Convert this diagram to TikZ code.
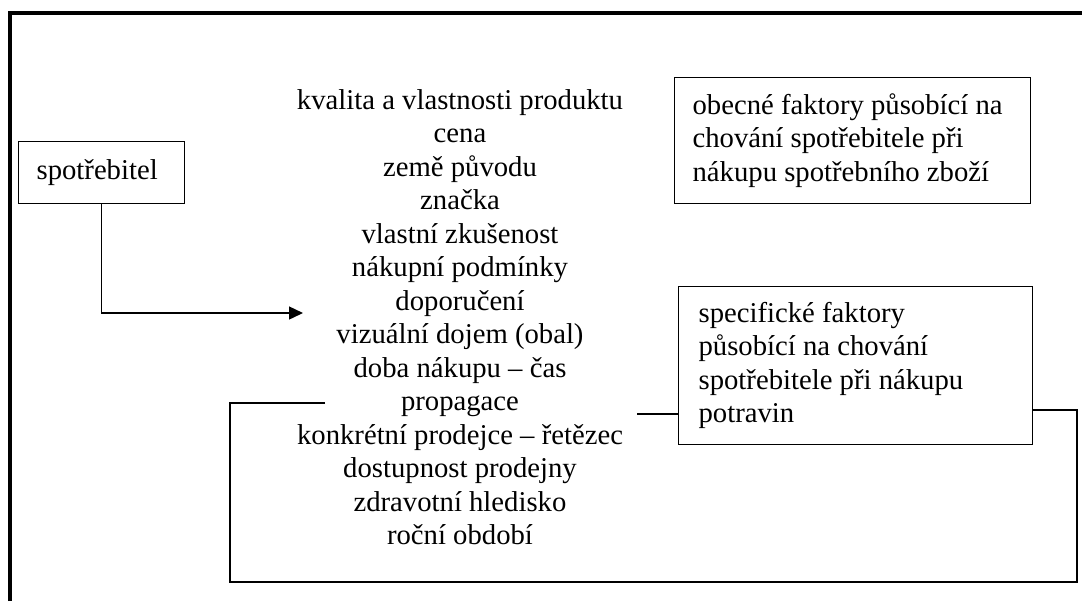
\documentclass[tikz,border=0pt]{standalone}
\usepackage{fontspec}
\setmainfont{Liberation Serif}
\usetikzlibrary{arrows.meta,calc}
\begin{document}
\begin{tikzpicture}[x=0.5pt,y=-0.5pt,
  every node/.style={font=\fontsize{14.35pt}{16.75pt}\selectfont, inner sep=0pt},
  box/.style={draw, line width=0.6pt, align=flush left, anchor=north west},
  conn/.style={line width=0.7pt},
  frameline/.style={line width=1.8pt}]
\useasboundingbox (0,0) rectangle (1082,601);
\fill[white] (0,0) rectangle (1082,601);
% outer frame (cropped)
\draw[frameline] (10,601) -- (10,13) -- (1082,13);
% boxes
\node[box, minimum width=83pt, minimum height=31pt, text width=65pt, inner xsep=9pt] (spot) at (18,141) {spotřebitel};
\node[box, minimum width=178pt, minimum height=63pt, text width=160pt, inner xsep=9pt] (obec) at (674,77)
  {obecné faktory působící na\\chování spotřebitele při\\nákupu spotřebního zboží};
\node[box, minimum width=177pt, minimum height=79pt, text width=157pt, inner xsep=9.5pt] (spec) at (678,286)
  {specifické faktory\\působící na chování\\spotřebitele při nákupu\\potravin};
% list of factors
\node[anchor=north, align=center] (list) at (460,89)
  {kvalita a vlastnosti produktu\\cena\\země původu\\značka\\vlastní zkušenost\\nákupní podmínky\\doporučení\\vizuální dojem (obal)\\doba nákupu – čas\\propagace\\konkrétní prodejce – řetězec\\dostupnost prodejny\\zdravotní hledisko\\roční období};
% connectors
\coordinate (tip) at (303,313);
\draw[conn,-{Triangle[length=7pt,width=6.5pt]}] (spot.south) |- (tip);
\coordinate (b1) at (325,403);
\coordinate (r1) at (1077,410);
\draw[conn] (b1) -- (230,403) -- (230,582) -- (1077,582) -- (r1) -- (r1 -| spec.east);
\coordinate (l1) at (637,414);
\draw[conn] (l1) -- (l1 -| spec.west);
\end{tikzpicture}
\end{document}
